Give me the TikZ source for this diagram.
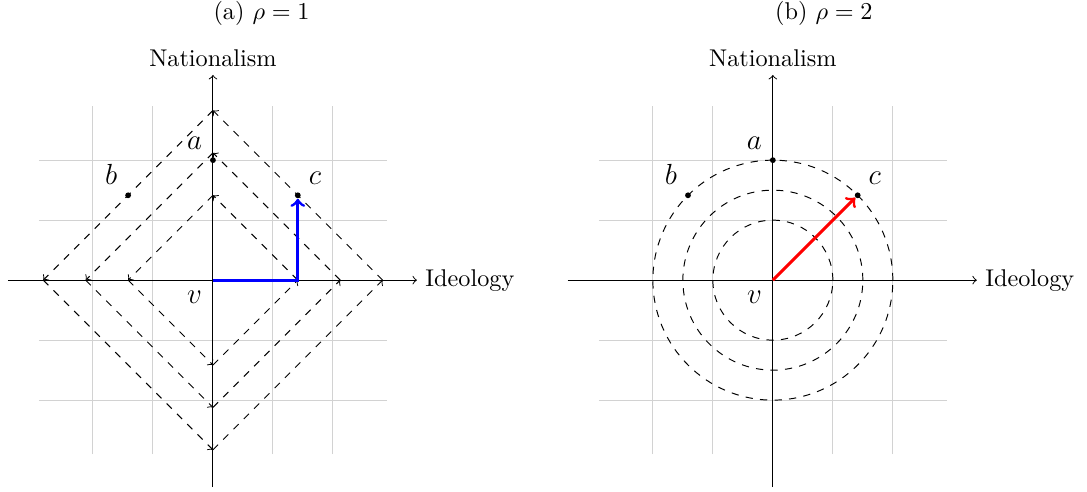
\documentclass[tikz,border=0pt]{standalone}
\usetikzlibrary{calc}

\begin{document}
\begin{tikzpicture}[
    scale=0.87,
    grid line/.style={thin, gray!35},
    axis line/.style={->, thin},
    level line/.style={dashed, thin},
    vec line/.style={->, very thick},
    dot/.style={circle, fill=black, inner sep=0pt, minimum size=2.4pt},
    pt label/.style={font=\large}
]
    \useasboundingbox (-3.55,-3.53) rectangle (14.57,4.67);

    % Definitions & Variables
    \def\shiftX{9.333}
    \pgfmathsetmacro{\rt}{sqrt(2)}

    % (a) rho = 1 : L1 balls
    \begin{scope}
        \draw[grid line] (-2.9,-2.9) grid (2.9,2.9);
        \draw[axis line] (-3.42,0) -- (3.4,0) node[right] {Ideology};
        \draw[axis line] (0,-3.45) -- (0,3.42) node[above] {Nationalism};

        % Level sets
        \foreach \r in {1,1.5,2} {
            \pgfmathsetmacro{\rr}{\r*\rt}
            \draw[level line, ->] (0,\rr) -- (-\rr,0);
            \draw[level line, ->] (-\rr,0) -- (0,-\rr);
            \draw[level line, ->] (0,-\rr) -- (\rr,0);
            \draw[level line, ->] (\rr,0) -- (0,\rr);
        }

        % Points
        \coordinate (v1) at (0,0);
        \node[dot] (a1) at (0,2) {};
        \node[dot] (b1) at (-\rt,\rt) {};
        \node[dot] (c1) at (\rt,\rt) {};
        \node[pt label, above left=1pt] at (a1) {$a$};
        \node[pt label, above left=1pt] at (b1) {$b$};
        \node[pt label, above right=1pt] at (c1) {$c$};
        \node[pt label, below left=1pt] at (v1) {$v$};

        % Path v -> c
        \draw[vec line, blue, line join=miter] (v1) -- (v1 -| c1) -- (c1);

        \node (capa) at (0.81,4.45) {(a) $\rho = 1$};
    \end{scope}

    % (b) rho = 2 : L2 balls
    \begin{scope}[shift={(\shiftX,0)}]
        \draw[grid line] (-2.9,-2.9) grid (2.9,2.9);
        \draw[axis line] (-3.42,0) -- (3.4,0) node[right] {Ideology};
        \draw[axis line] (0,-3.45) -- (0,3.42) node[above] {Nationalism};

        % Level sets
        \foreach \r in {1,1.5,2}
            \draw[level line] (0,0) circle (\r);

        % Points
        \coordinate (v2) at (0,0);
        \node[dot] (a2) at (0,2) {};
        \node[dot] (b2) at (-\rt,\rt) {};
        \node[dot] (c2) at (\rt,\rt) {};
        \node[pt label, above left=1pt] at (a2) {$a$};
        \node[pt label, above left=1pt] at (b2) {$b$};
        \node[pt label, above right=1pt] at (c2) {$c$};
        \node[pt label, below left=1pt] at (v2) {$v$};

        % Path v -> c
        \draw[vec line, red] (v2) -- (c2);

        \node (capb) at (0.85,4.45) {(b) $\rho = 2$};
    \end{scope}
\end{tikzpicture}
\end{document}
